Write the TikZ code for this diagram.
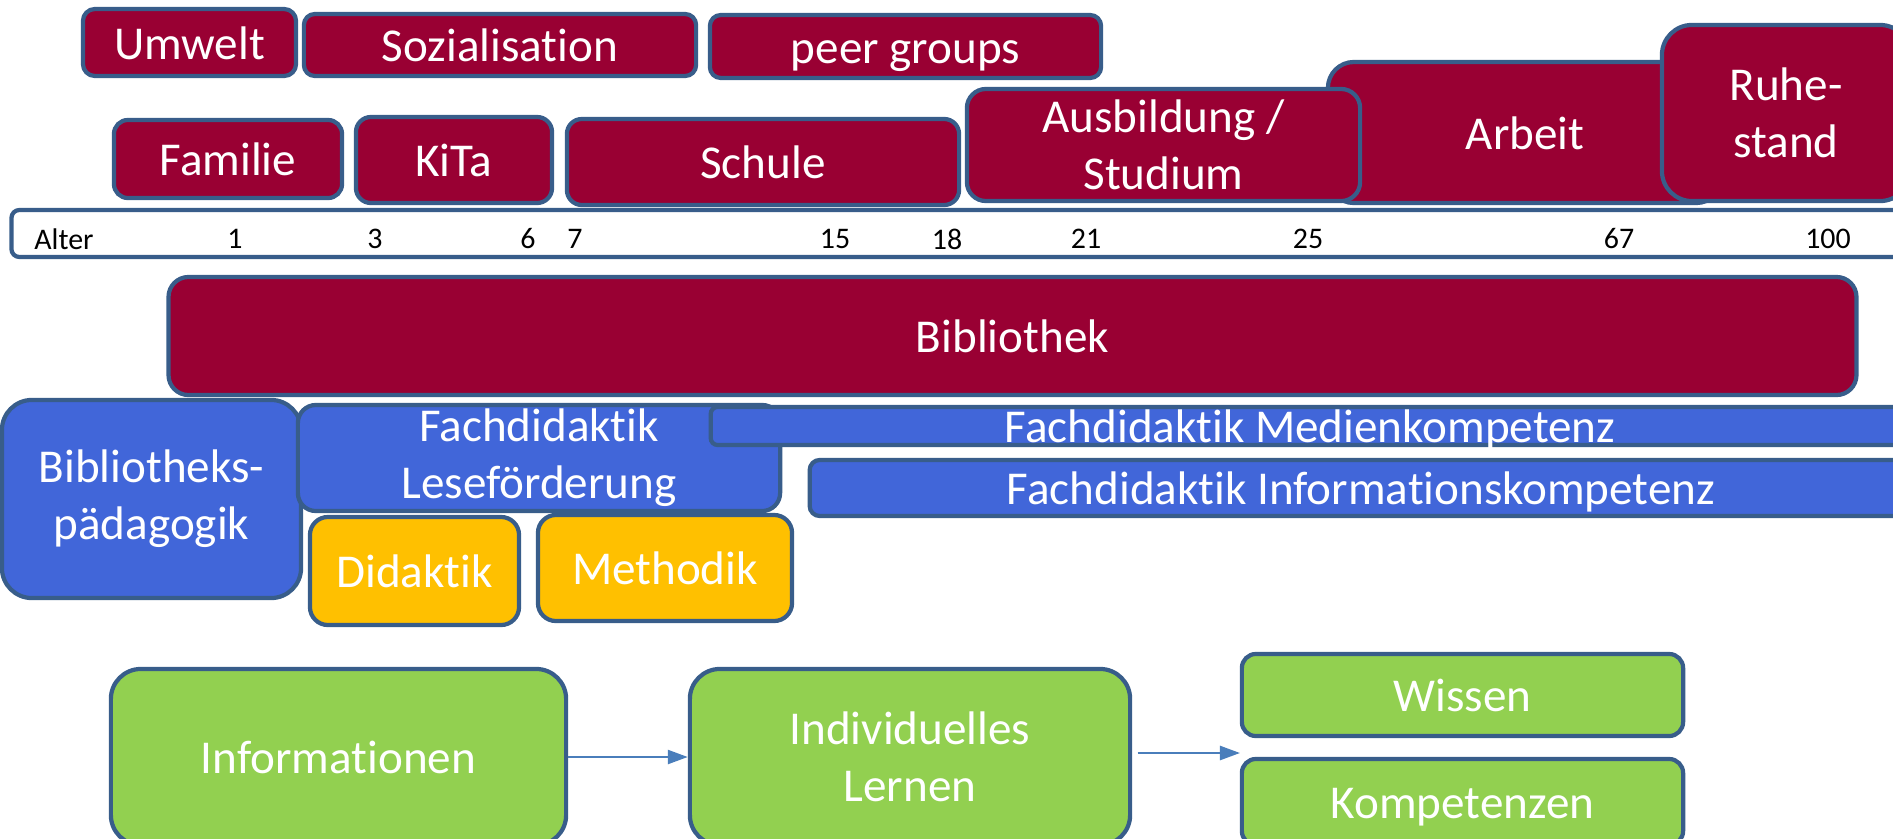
\documentclass[tikz,border=0pt]{standalone}
\usepackage{fontspec}
\setmainfont{Carlito}[Ligatures={NoCommon,NoRequired}]
\usetikzlibrary{arrows.meta}

\definecolor{rim}{HTML}{385D8A}
\definecolor{lifered}{HTML}{990033}
\definecolor{didblue}{HTML}{4166D9}
\definecolor{methorange}{HTML}{FFC000}
\definecolor{learngreen}{HTML}{92D050}
\definecolor{arrowblue}{HTML}{4A7EBB}

\newcommand{\boxfont}{\fontsize{13.4}{16.2}\selectfont}
\newcommand{\agefont}{\fontsize{8.5}{10}\selectfont}

\begin{document}
\begin{tikzpicture}[
    x=0.01cm, y=-0.01cm,
    box/.style={
        rectangle, draw=rim, line width=1.2pt,
        text=white, font=\boxfont, align=center, inner sep=0pt
    },
    oneline/.style={text height=9.4pt, text depth=0pt},
    life/.style={box, fill=lifered},
    fach/.style={box, fill=didblue},
    method/.style={box, fill=methorange},
    learn/.style={box, fill=learngreen},
    agebar/.style={box, fill=white},
    age/.style={font=\agefont, text=black, inner sep=0pt},
    arrow/.style={-{Triangle[length=2mm, width=1.4mm]}, line width=0.7pt, draw=arrowblue}
]

\useasboundingbox (0,0) rectangle (1893,839);
\clip (0,0) rectangle (1893,839);

% Einfluesse, obere Reihe
\node[life, oneline, minimum width=2.13cm, minimum height=0.67cm, rounded corners=1.2mm] (umwelt) at (189.5,42.5) {Umwelt};
\node[life, oneline, minimum width=3.92cm, minimum height=0.62cm, rounded corners=1.1mm] (sozial) at (500,45) {Sozialisation};
\node[life, oneline, minimum width=3.91cm, minimum height=0.63cm, rounded corners=1.1mm] (peers) at (905.5,46.5) {peer groups};

% Lebensphasen
\node[life, oneline, minimum width=2.28cm, minimum height=0.78cm, rounded corners=1.4mm] (familie) at (228,159) {Familie};
\node[life, oneline, minimum width=1.96cm, minimum height=0.86cm, rounded corners=1.5mm] (kita) at (454,160) {KiTa};
\node[life, oneline, minimum width=3.92cm, minimum height=0.86cm, rounded corners=1.5mm] (schule) at (763,162) {Schule};
\node[life, oneline, minimum width=3.94cm, minimum height=1.41cm, rounded corners=2.6mm] (arbeit) at (1525,132.5) {Arbeit};
\node[life, minimum width=3.93cm, minimum height=1.12cm, rounded corners=1.9mm] (ausbildung) at (1163.5,145) {Ausbildung /\\Studium};
\node[life, minimum width=2.48cm, minimum height=1.76cm, rounded corners=3mm] (ruhestand) at (1786,113) {Ruhe-\\stand};

% Zeitleiste
\node[agebar, minimum width=19.06cm, minimum height=0.47cm, rounded corners=0.8mm] (alter) at (965,233.5) {};
\node[age] (lblalter) at (64,239) {Alter};
\foreach \x/\a in {235/1, 375/3, 528/6, 575/7, 835/15, 947/18, 1086/21, 1308/25, 1619/67, 1828/100}
    \node[age] (age\a) at (\x,239) {\a};

% Bibliothek
\node[life, oneline, minimum width=16.87cm, minimum height=1.18cm, rounded corners=2mm] (bib) at (1012.5,336) {Bibliothek};

% Paedagogik und Fachdidaktik
\node[fach, minimum width=2.99cm, minimum height=1.98cm, rounded corners=3mm] (bibpaed) at (151.5,499) {Bibliotheks-\\pädagogik};
\node[fach, minimum width=4.82cm, minimum height=1.06cm, rounded corners=1.8mm] (lese) at (539,458) {Fachdidaktik\\Leseförderung};
\node[fach, oneline, minimum width=11.98cm, minimum height=0.38cm, rounded corners=0.7mm] (medien) at (1310,426) {Fachdidaktik Medienkompetenz};
\node[fach, oneline, minimum width=11.02cm, minimum height=0.56cm, rounded corners=1mm] (infokomp) at (1361,488) {Fachdidaktik Informationskompetenz};

\node[method, oneline, minimum width=2.09cm, minimum height=1.08cm, rounded corners=1.8mm] (didaktik) at (414.5,571) {Didaktik};
\node[method, oneline, minimum width=2.54cm, minimum height=1.06cm, rounded corners=1.8mm] (methodik) at (665,568) {Methodik};

% Lernprozess
\node[learn, oneline, minimum width=4.55cm, minimum height=1.76cm, rounded corners=3mm] (info) at (338.5,757) {Informationen};
\node[learn, minimum width=4.40cm, minimum height=1.76cm, rounded corners=3mm] (indiv) at (910,757) {Individuelles\\Lernen};
\node[learn, oneline, minimum width=4.41cm, minimum height=0.82cm, rounded corners=1.4mm] (wissen) at (1462.5,695) {Wissen};
\node[learn, oneline, minimum width=4.41cm, minimum height=0.86cm, rounded corners=1.4mm] (kompetenzen) at (1462.5,802) {Kompetenzen};

\coordinate (split) at (1240,753);
\draw[arrow] (info) -- (indiv);
\draw[arrow, shorten <=1.5pt] (indiv.east |- split) -- (split);

\end{tikzpicture}
\end{document}
